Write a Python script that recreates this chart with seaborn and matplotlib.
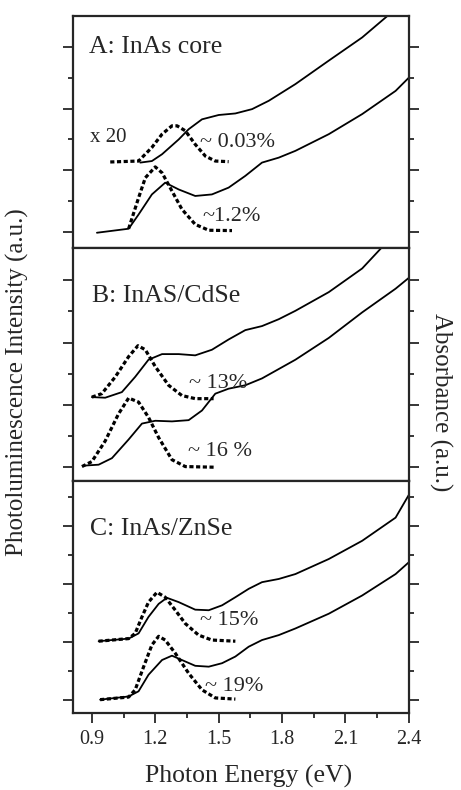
import matplotlib
matplotlib.use("Agg")
import matplotlib.pyplot as plt
import seaborn as sns
import pandas as pd
from matplotlib.ticker import MultipleLocator

# --- panel A: InAs core ---
a_abs1_x = [1.129, 1.184, 1.232, 1.311, 1.358, 1.421, 1.50, 1.579, 1.658, 1.737, 1.863, 2.021, 2.179, 2.313, 2.40]
a_abs1_y = [2.25, 2.30, 2.52, 3.00, 3.33, 3.65, 3.79, 3.84, 3.98, 4.25, 4.79, 5.55, 6.30, 7.08, 7.70]
a_pl1_x = [0.987, 1.121, 1.184, 1.232, 1.279, 1.303, 1.342, 1.389, 1.437, 1.484, 1.547]
a_pl1_y = [2.27, 2.30, 2.74, 3.17, 3.44, 3.44, 3.28, 2.84, 2.46, 2.30, 2.28]
a_abs2_x = [0.924, 1.074, 1.121, 1.184, 1.247, 1.311, 1.389, 1.468, 1.547, 1.626, 1.705, 1.784, 1.863, 2.021, 2.179, 2.337, 2.40]
a_abs2_y = [-0.02, 0.11, 0.57, 1.22, 1.60, 1.38, 1.17, 1.22, 1.44, 1.82, 2.25, 2.41, 2.63, 3.17, 3.82, 4.57, 5.00]
a_pl2_x = [1.074, 1.121, 1.153, 1.200, 1.232, 1.279, 1.326, 1.389, 1.453, 1.563]
a_pl2_y = [0.11, 1.11, 1.76, 2.11, 1.92, 1.33, 0.74, 0.25, 0.06, 0.05]

# --- panel B: InAs/CdSe ---
b_abs1_x = [0.90, 0.963, 1.042, 1.105, 1.168, 1.232, 1.311, 1.389, 1.468, 1.547, 1.626, 1.705, 1.784, 1.863, 2.021, 2.179, 2.274, 2.40]
b_abs1_y = [2.25, 2.23, 2.41, 2.90, 3.45, 3.63, 3.63, 3.59, 3.77, 4.10, 4.40, 4.53, 4.75, 5.02, 5.62, 6.38, 7.07, 8.0]
b_pl1_x = [0.90, 0.947, 1.011, 1.074, 1.118, 1.153, 1.200, 1.263, 1.326, 1.389, 1.476]
b_pl1_y = [2.25, 2.36, 2.90, 3.55, 3.90, 3.77, 3.23, 2.63, 2.30, 2.20, 2.20]
b_abs2_x = [0.861, 0.932, 0.995, 1.074, 1.137, 1.200, 1.279, 1.358, 1.421, 1.484, 1.547, 1.626, 1.705, 1.863, 2.021, 2.179, 2.337, 2.40]
b_abs2_y = [0.05, 0.08, 0.29, 0.89, 1.40, 1.49, 1.47, 1.51, 1.82, 2.36, 2.52, 2.63, 2.85, 3.45, 4.15, 4.97, 5.73, 6.08]
b_pl2_x = [0.853, 0.90, 0.963, 1.026, 1.074, 1.121, 1.168, 1.216, 1.279, 1.342, 1.476]
b_pl2_y = [0.02, 0.18, 0.84, 1.71, 2.22, 2.09, 1.60, 0.95, 0.24, 0.02, 0.0]

# --- panel C: InAs/ZnSe ---
c_abs1_x = [0.932, 1.074, 1.121, 1.168, 1.216, 1.255, 1.311, 1.389, 1.453, 1.516, 1.579, 1.642, 1.705, 1.784, 1.863, 2.021, 2.179, 2.337, 2.40]
c_abs1_y = [2.02, 2.11, 2.29, 2.86, 3.31, 3.52, 3.37, 3.11, 3.09, 3.26, 3.54, 3.83, 4.06, 4.17, 4.34, 4.86, 5.49, 6.29, 7.08]
c_pl1_x = [0.932, 1.074, 1.105, 1.137, 1.168, 1.208, 1.247, 1.295, 1.342, 1.405, 1.468, 1.579]
c_pl1_y = [2.02, 2.11, 2.29, 2.86, 3.37, 3.71, 3.54, 3.09, 2.63, 2.23, 2.06, 2.02]
c_abs2_x = [0.939, 1.074, 1.121, 1.168, 1.232, 1.279, 1.326, 1.389, 1.453, 1.516, 1.579, 1.642, 1.705, 1.784, 1.863, 2.021, 2.179, 2.337, 2.40]
c_abs2_y = [0.0, 0.11, 0.29, 0.86, 1.37, 1.52, 1.37, 1.17, 1.14, 1.26, 1.49, 1.83, 2.06, 2.23, 2.46, 2.97, 3.60, 4.34, 4.75]
c_pl2_x = [0.939, 1.074, 1.105, 1.145, 1.184, 1.216, 1.247, 1.295, 1.358, 1.421, 1.484, 1.579]
c_pl2_y = [0.0, 0.09, 0.34, 1.14, 1.89, 2.19, 2.06, 1.60, 0.91, 0.34, 0.06, 0.02]

panel_titles = ["A: InAs core", "B: InAS/CdSe", "C: InAs/ZnSe"]
top_labels = ["~ 0.03%", "~ 13%", "~ 15%"]
bottom_labels = ["~1.2%", "~ 16 %", "~ 19%"]
x_ticks = [0.9, 1.2, 1.5, 1.8, 2.1, 2.4]

sns.set_style("ticks")
plt.rcParams['font.family'] = ['Liberation Serif', 'DejaVu Serif']

fig = plt.figure(figsize=(4.61, 7.90), dpi=100)
gs = fig.add_gridspec(3, 1, left=0.158, right=0.887, top=0.980, bottom=0.0975, hspace=0)
axes = [fig.add_subplot(gs[i]) for i in range(3)]

curves = [
    [(a_abs1_x, a_abs1_y, 'abs'), (a_pl1_x, a_pl1_y, 'pl'), (a_abs2_x, a_abs2_y, 'abs'), (a_pl2_x, a_pl2_y, 'pl')],
    [(b_abs1_x, b_abs1_y, 'abs'), (b_pl1_x, b_pl1_y, 'pl'), (b_abs2_x, b_abs2_y, 'abs'), (b_pl2_x, b_pl2_y, 'pl')],
    [(c_abs1_x, c_abs1_y, 'abs'), (c_pl1_x, c_pl1_y, 'pl'), (c_abs2_x, c_abs2_y, 'abs'), (c_pl2_x, c_pl2_y, 'pl')],
]
ylims = [(-0.52, 7.0), (-0.43, 7.03), (-0.46, 7.57)]
ymax_tick = [6, 6, 7]
title_pos = [(0.885, 6.0), (0.90, 5.5), (0.892, 5.9)]
top_pos = [(1.413, 2.9), (1.358, 2.68), (1.413, 2.74)]
bot_pos = [(1.421, 0.52), (1.355, 0.51), (1.437, 0.46)]

for i, ax in enumerate(axes):
    for xs, ys, kind in curves[i]:
        df = pd.DataFrame({'E': xs, 'I': ys})
        if kind == 'abs':
            sns.lineplot(data=df, x='E', y='I', ax=ax, sort=False, color='black', lw=1.3)
        else:
            sns.lineplot(data=df, x='E', y='I', ax=ax, sort=False, color='black', lw=2.3,
                         linestyle=(0, (1.3, 0.8)), dash_capstyle='butt')
    ax.set_xlim(0.81, 2.4)
    ax.set_ylim(*ylims[i])
    ax.xaxis.set_major_locator(MultipleLocator(0.3))
    ax.xaxis.set_minor_locator(MultipleLocator(0.15))
    ax.set_yticks(list(range(0, ymax_tick[i] + 1, 2)))
    ax.set_yticks(list(range(1, ymax_tick[i] + 1, 2)), minor=True)
    ax.tick_params(which='both', direction='out', left=True, right=True, bottom=True, top=False,
                   labelleft=False, labelbottom=(i == 2), width=1.3, labelsize=14.5, pad=5)
    ax.tick_params(which='major', length=7)
    ax.tick_params(which='minor', length=3.8)
    for s in ax.spines.values():
        s.set_linewidth(1.6)
    ax.set_xlabel('')
    ax.set_ylabel('')
    ax.text(title_pos[i][0], title_pos[i][1], panel_titles[i], fontsize=18.5, va='center', ha='left')
    ax.text(top_pos[i][0], top_pos[i][1], top_labels[i], fontsize=16, va='center', ha='left')
    ax.text(bot_pos[i][0], bot_pos[i][1], bottom_labels[i], fontsize=16, va='center', ha='left')

axes[0].text(0.892, 3.06, "x 20", fontsize=15, va='center', ha='left')
axes[2].set_xticks(x_ticks)
axes[2].set_xticklabels([f"{v:.1f}" for v in x_ticks])

fig.text(0.540, 0.003, "Photon Energy (eV)", fontsize=18.5, va='bottom', ha='center')
fig.text(0.037, 0.516, "Photoluminescence Intensity (a.u.)", rotation=90, fontsize=18, va='center', ha='center')
fig.text(0.955, 0.491, "Absorbance (a.u.)", rotation=-90, fontsize=18, va='center', ha='center')

fig.savefig("out.png", dpi=100)
